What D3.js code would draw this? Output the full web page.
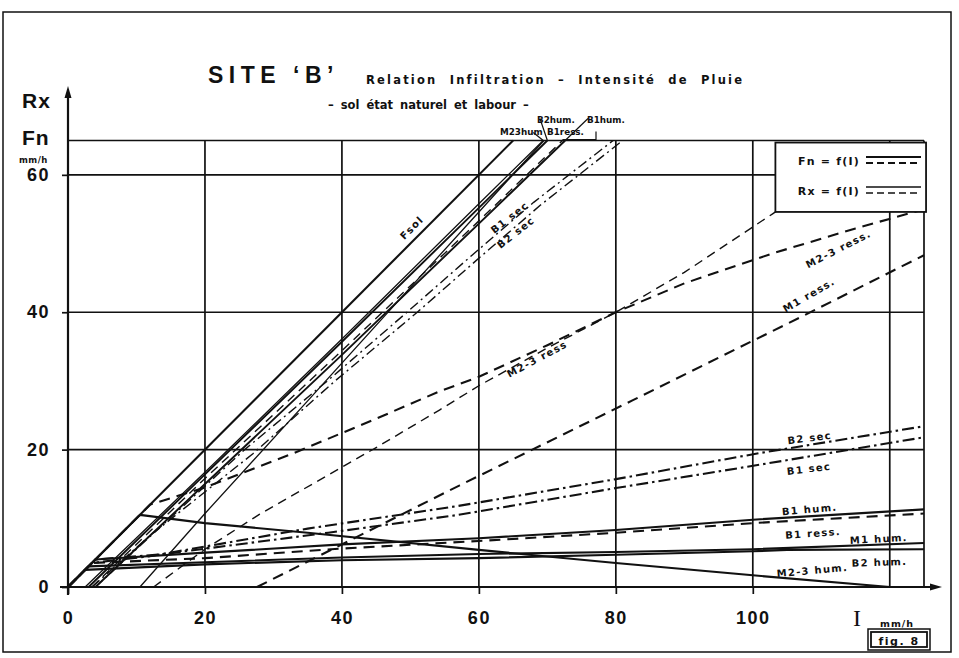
<!DOCTYPE html>
<html><head><meta charset="utf-8">
<script src="https://cdn.jsdelivr.net/npm/d3@7"></script>
<style>
body{margin:0;background:#fff;}
svg{display:block;}
</style></head><body>
<svg id="chart" width="959" height="658"></svg>
<script>
// Rain intensity I (mm/h) against infiltration Fn and runoff Rx (mm/h)
const xTicks = [0, 20, 40, 60, 80, 100];
const yTicks = [0, 20, 40, 60];
const xGrid = [20, 40, 60, 80, 100, 120];
const yGrid = [20, 40, 60, 65];

// each series: [I, value]
const fsol      = [[0,0],[65,65]];
const m23humFn  = [[0,0],[10.5,10.5],[20,9.3],[35,7.9],[60,5.4],[80,3.5],[100,1.7],[120,0]];
const m23humRx  = [[10.5,0],[20,10.7],[35,27.1],[60,54.6],[69.5,65]];
const b1humFn   = [[0,0],[4,4],[20,5],[40,6.2],[60,7.1],[80,8.3],[100,9.8],[125,11.3]];
const b1humRx   = [[4,0],[20,15],[40,33.8],[60,52.9],[72.6,65]];
const b1ressFn  = [[0,0],[3.5,3.5],[20,4.2],[40,5.6],[60,6.7],[80,7.9],[100,9.3],[125,10.7]];
const b1ressRx  = [[3.5,0],[20,15.8],[40,34.4],[60,53.3],[72.2,65]];
const m1humFn   = [[0,0],[3,3],[20,3.6],[40,4.3],[60,4.8],[80,5.1],[100,5.5],[125,6.4]];
const m1humRx   = [[3,0],[20,16.4],[40,35.7],[60,55.2],[70,65]];
const b2humFn   = [[0,0],[2.5,2.5],[20,3.3],[40,3.9],[60,4.2],[80,4.7],[100,5.2],[105,5.4],[125,5.5]];
const b2humRx   = [[2.5,0],[20,16.7],[40,36.1],[60,55.8],[69.4,65]];
const b1secFn   = [[0,0],[4,4],[14,4.8],[38,7.9],[57,10.5],[80,14.4],[101,17.8],[125,21.8]];
const b1secRx   = [[4,0],[14,9.2],[25.8,20],[38,30.1],[49.5,40],[59,48.3],[68,56],[79.6,65]];
const b2secFn   = [[0,0],[3.5,3.5],[12,4.5],[35,8.5],[57,11.8],[80,15.7],[101,19.5],[125,23.4]];
const b2secRx   = [[3.5,0],[12,7.5],[27,19.4],[39,30],[51,40],[60.5,48.3],[69,55.6],[81,65]];
const m23ressFn = [[0,0],[12,12],[20,14.5],[33,19.5],[45,24.5],[54.3,28.5],[60,30.6],[70,35.2],[80,40],[90,44.2],[103,48.6],[115,52.2],[125,55]];
const m23ressRx = [[12.5,0],[20,5.5],[28,10.6],[45,20.3],[54.3,25.8],[60,29.3],[70,34.8],[80,40],[90,45.8],[103,54.4],[118.5,65]];
const m1ressRx  = [[27.6,0],[57.2,14.8],[82.5,27.2],[107,39.3],[125,48.3]];

const svg = d3.select("#chart");
const x = d3.scaleLinear().domain([0, 125]).range([68, 924]);
const y = d3.scaleLinear().domain([0, 65]).range([587, 140.5]);

const INK = "#111";
const LABEL_FONT = "'DejaVu Sans', sans-serif";

// sheet frame
svg.append("rect").attr("x", 3).attr("y", 12).attr("width", 948).attr("height", 640)
  .attr("fill", "none").attr("stroke", INK).attr("stroke-width", 1.5);

// grid
const grid = svg.append("g").attr("stroke", INK).attr("stroke-width", 1.7);
grid.selectAll(".gx").data(xGrid).join("line")
  .attr("x1", d => x(d)).attr("x2", d => x(d)).attr("y1", y(0)).attr("y2", y(65));
grid.selectAll(".gy").data(yGrid).join("line")
  .attr("x1", x(0)).attr("x2", x(125)).attr("y1", d => y(d)).attr("y2", d => y(d));
grid.append("line").attr("x1", x(125)).attr("x2", x(125)).attr("y1", y(0)).attr("y2", y(65));

// axes with ticks and labels
const ax = svg.append("g").attr("transform", `translate(0,${y(0)})`)
  .call(d3.axisBottom(x).tickValues(xTicks).tickSize(7).tickPadding(17).tickFormat(d3.format("d")));
ax.select(".domain").remove();
ax.selectAll("line").attr("stroke", INK).attr("stroke-width", 1.7);
ax.selectAll("text").attr("font-family", "'Liberation Sans', Arial, sans-serif")
  .attr("font-size", 18).attr("letter-spacing", 1.5).attr("fill", INK).attr("font-weight", "bold");

const ay = svg.append("g").attr("transform", `translate(${x(0)},0)`)
  .call(d3.axisLeft(y).tickValues(yTicks).tickSize(6).tickPadding(12).tickFormat(d3.format("d")));
ay.select(".domain").remove();
ay.selectAll("line").attr("stroke", INK).attr("stroke-width", 1.7);
ay.selectAll("text").attr("font-family", "'Liberation Sans', Arial, sans-serif")
  .attr("font-size", 18).attr("letter-spacing", 1.5).attr("fill", INK).attr("font-weight", "bold");

// axis lines with arrow heads
svg.append("line").attr("x1", x(0) - 8).attr("x2", 938).attr("y1", y(0)).attr("y2", y(0))
  .attr("stroke", INK).attr("stroke-width", 2.2);
svg.append("path").attr("d", `M942,${y(0)} l-12,-3.5 l0,7 z`).attr("fill", INK);
svg.append("line").attr("x1", x(0)).attr("x2", x(0)).attr("y1", y(0) + 8).attr("y2", 92)
  .attr("stroke", INK).attr("stroke-width", 2.2);
svg.append("path").attr("d", `M${x(0)},86 l-3.5,12 l7,0 z`).attr("fill", INK);

// text helper
const addText = (t, px, py, size, opts = {}) => svg.append("text").attr("x", px).attr("y", py)
  .attr("font-family", opts.family || "'Liberation Sans', Arial, sans-serif")
  .attr("font-size", size).attr("font-weight", opts.weight || "bold")
  .attr("letter-spacing", opts.ls || 0).attr("word-spacing", opts.ws || 0)
  .attr("text-anchor", opts.anchor || "start")
  .attr("fill", INK).text(t);

// axis titles
addText("Rx", 22, 108, 21, {ls: 1});
addText("Fn", 22, 145, 21, {ls: 1});
addText("mm/h", 19, 163, 8.5, {family: LABEL_FONT, ls: 0.5});
addText("I", 853, 626, 24, {family: "'Liberation Serif', serif", weight: "normal"});
addText("mm/h", 880, 627, 9.5, {family: LABEL_FONT, ls: 1});

// titles
addText("SITE  \u2018B\u2019", 208, 83, 23, {ls: 5.5});
addText("Relation  Infiltration \u2013 Intensit\u00e9 de Pluie", 366, 84, 11.5, {family: LABEL_FONT, ls: 2.2, ws: 6});
addText("\u2013 sol  \u00e9tat naturel  et  labour \u2013", 328, 109, 11.5, {family: LABEL_FONT, ls: 0, ws: 3});

// curves
const curves = [
  {data: fsol, kind: "fnSolid"},
  {data: m23humFn, kind: "fnSolid"},
  {data: b1humFn, kind: "fnSolid"},
  {data: m1humFn, kind: "fnSolid"},
  {data: b2humFn, kind: "fnSolid"},
  {data: b1ressFn, kind: "fnDash"},
  {data: b1secFn, kind: "fnDashDot"},
  {data: b2secFn, kind: "fnDashDot"},
  {data: m23ressFn, kind: "fnDash"},
  {data: m23humRx, kind: "rxSolid"},
  {data: b1humRx, kind: "rxSolidHeavy"},
  {data: m1humRx, kind: "rxSolidHeavy"},
  {data: b2humRx, kind: "rxSolid"},
  {data: b1ressRx, kind: "rxDash"},
  {data: b1secRx, kind: "rxDashDot"},
  {data: b2secRx, kind: "rxDashDot"},
  {data: m23ressRx, kind: "rxDash"},
  {data: m1ressRx, kind: "fnDash"}
];
const styles = {
  fnSolid:      {w: 2.1, dash: null},
  fnDash:       {w: 2.1, dash: "11,7"},
  fnDashDot:    {w: 2.1, dash: "12,4,2.5,4"},
  rxSolid:      {w: 1.3, dash: null},
  rxSolidHeavy: {w: 1.9, dash: null},
  rxDash:       {w: 1.4, dash: "9,6"},
  rxDashDot:    {w: 1.4, dash: "10,4,2,4"}
};
const line = d3.line().x(d => x(d[0])).y(d => y(d[1]));
svg.append("g").selectAll("path").data(curves).join("path")
  .attr("d", d => line(d.data))
  .attr("fill", "none").attr("stroke", INK)
  .attr("stroke-width", d => styles[d.kind].w)
  .attr("stroke-dasharray", d => styles[d.kind].dash)
  .attr("stroke-linejoin", "round");

// legend
const lg = svg.append("g");
const lx0 = x(103.3), lx1 = x(125.3), ly0 = y(64.7), ly1 = y(54.6);
lg.append("rect").attr("x", lx0).attr("y", ly0).attr("width", lx1 - lx0).attr("height", ly1 - ly0)
  .attr("fill", "#fff").attr("stroke", INK).attr("stroke-width", 1.8);
const legendRows = [
  {text: "Fn = f(I)", dy: 0, a: "fnSolid", b: "fnDash"},
  {text: "Rx = f(I)", dy: 30, a: "rxSolid", b: "rxDash"}
];
legendRows.forEach(r => {
  lg.append("text").attr("x", 860).attr("y", 165 + r.dy).attr("text-anchor", "end")
    .attr("font-family", LABEL_FONT).attr("font-weight", "bold").attr("font-size", 11)
    .attr("letter-spacing", 1.2).attr("fill", INK).text(r.text);
  lg.append("line").attr("x1", 866).attr("x2", 921).attr("y1", 157 + r.dy).attr("y2", 157 + r.dy)
    .attr("stroke", INK).attr("stroke-width", styles[r.a].w);
  lg.append("line").attr("x1", 866).attr("x2", 921).attr("y1", 163 + r.dy).attr("y2", 163 + r.dy)
    .attr("stroke", INK).attr("stroke-width", styles[r.b].w).attr("stroke-dasharray", "7,4");
});

// curve labels: [text, I, value, angle]
const curveLabels = [
  ["Fsol", 50.2, 52.3, -45],
  ["B1 sec", 64.5, 53.8, -38],
  ["B2 sec", 65.4, 51.6, -38],
  ["M2-3 ress", 68.5, 33.2, -28],
  ["M2-3 ress.", 112.5, 49.2, -27],
  ["M1 ress.", 108.2, 42.5, -30],
  ["B2 sec", 108.3, 21.7, -7],
  ["B1 sec", 108.2, 17.2, -7],
  ["B1 hum.", 108.3, 11.3, -5],
  ["B1 ress.", 108.8, 7.8, -4],
  ["M1 hum.", 118.4, 7.0, -3],
  ["B2 hum.", 118.5, 3.6, -2],
  ["M2-3 hum.", 108.7, 2.4, -5]
];
svg.append("g").selectAll("text").data(curveLabels).join("text")
  .attr("transform", d => `translate(${x(d[1])},${y(d[2])}) rotate(${d[3]})`)
  .attr("text-anchor", "middle").attr("dy", "0.35em")
  .attr("font-family", LABEL_FONT).attr("font-weight", "bold").attr("font-size", 10)
  .attr("letter-spacing", 1.3).attr("fill", INK).text(d => d[0]);

// labels for the runoff lines leaving the top of the frame
const topLabels = [
  ["B2hum.", 537, 123],
  ["B1hum.", 587, 123],
  ["M23hum", 500, 135],
  ["B1ress.", 547, 135]
];
svg.append("g").selectAll("text").data(topLabels).join("text")
  .attr("x", d => d[1]).attr("y", d => d[2])
  .attr("font-family", LABEL_FONT).attr("font-weight", "bold").attr("font-size", 8.8)
  .attr("fill", INK).text(d => d[0]);
const leader = svg.append("g").attr("stroke", INK).attr("stroke-width", 1.2).attr("fill", "none");
leader.append("path").attr("d", `M${x(69.4) - 10},${y(65) - 8} L${x(69.4)},${y(65)}`);
leader.append("path").attr("d", `M${x(69.5) - 4},${y(65) - 22} L${x(70)},${y(65)}`);
leader.append("path").attr("d", `M588,${y(65) - 22} L${x(72.6)},${y(65)}`);
leader.append("path").attr("d", `M596,${y(65) - 9} L596,${y(65) - 1} L${x(72.2)},${y(65) - 1}`);

// figure tag
svg.append("rect").attr("x", 868).attr("y", 629).attr("width", 62).attr("height", 21)
  .attr("fill", "none").attr("stroke", INK).attr("stroke-width", 1.5);
svg.append("rect").attr("x", 871).attr("y", 632).attr("width", 56).attr("height", 15)
  .attr("fill", "none").attr("stroke", INK).attr("stroke-width", 1.8);
svg.append("text").attr("x", 899).attr("y", 644.5).attr("text-anchor", "middle")
  .attr("font-family", LABEL_FONT).attr("font-weight", "bold").attr("font-size", 11)
  .attr("letter-spacing", 1.5).attr("fill", INK).text("fig. 8");
</script></body></html>
